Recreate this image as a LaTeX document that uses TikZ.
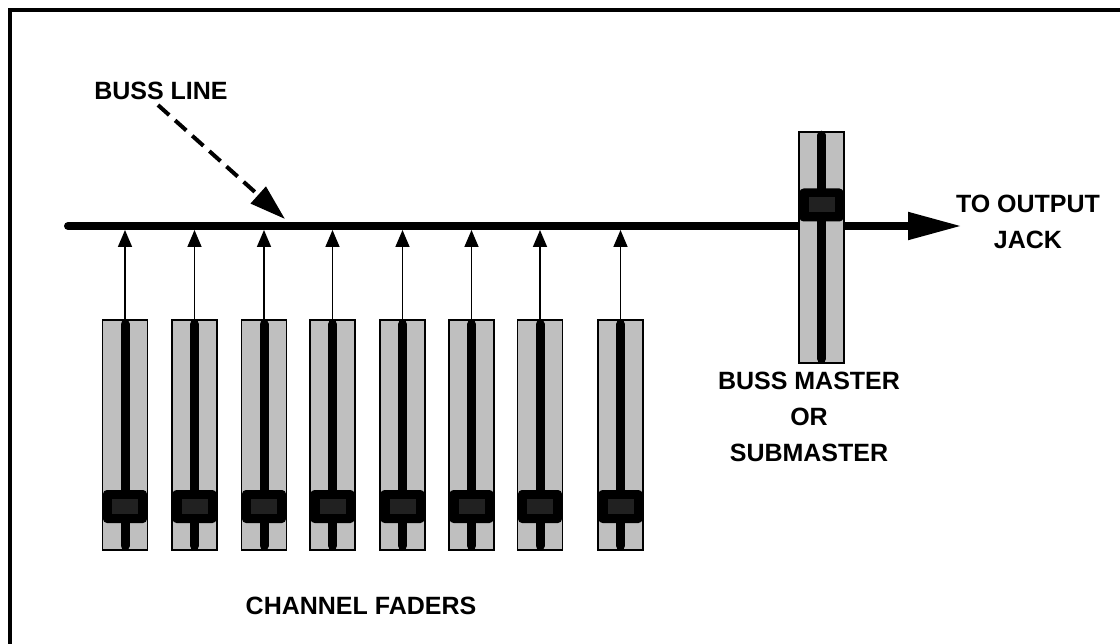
\documentclass[tikz,border=0pt]{standalone}
\usepackage{fontspec}
\setmainfont{Liberation Sans}
\usetikzlibrary{arrows.meta}
\tikzset{
  fader/.style={draw=black,line width=1.5pt,fill=black!25,minimum width=45pt,minimum height=230pt,inner sep=0pt},
  slot/.style={line width=9pt,line cap=round},
  knob/.style={fill=black,rounded corners=4pt,minimum width=44pt,minimum height=33pt,inner sep=0pt},
  knobtop/.style={fill=black!87,minimum width=26pt,minimum height=15pt,inner sep=0pt},
  feed/.style={line width=1.6pt,-{Triangle[length=17pt,width=14pt]}},
  lbl/.style={font=\fontsize{25}{36}\selectfont\bfseries,align=center,inner sep=0pt}
}
\begin{document}
\begin{tikzpicture}[x=1pt,y=-1pt]
  \useasboundingbox (0,0) rectangle (1120,644);
  \draw[line width=4pt] (10,644) -- (10,10) -- (1120,10);
  % buss line
  \coordinate (busstart) at (68,226);
  \coordinate (bussend) at (962,226);
  \draw[line width=8pt,line cap=round,-{Triangle[length=54pt,width=26pt]}] (busstart) -- (bussend);
  % channel faders
  \foreach \x [count=\i] in {125,194.5,264,332.5,402.5,471.5,540,620.5}{
    \node[fader] (f\i) at (\x,435) {};
    \draw[slot] ([yshift=-5pt]f\i.north) -- ([yshift=5pt]f\i.south);
    \node[knob] (k\i) at (\x,506.5) {};
    \node[knobtop] at (k\i) {};
    \coordinate (b\i) at (\x,230);
    \draw[feed] (f\i.north) -- (b\i);
  }
  % buss master
  \node[fader,minimum height=231pt] (mf) at (821.5,247.5) {};
  \draw[slot] ([yshift=-4pt]mf.north) -- ([yshift=5pt]mf.south);
  \node[knob] (mk) at (821.5,205) {};
  \node[knobtop] at (mk) {};
  % labels
  \node[lbl] (busslbl) at (161,91) {BUSS LINE};
  \coordinate (busspt) at (285,219);
  \draw[line width=4pt,dash pattern=on 15pt off 8pt,-{Triangle[length=36pt,width=22pt]}] ([xshift=-3pt,yshift=-5pt]busslbl.south) -- (busspt);
  \node[lbl] (outlbl) at (1028,222) {TO OUTPUT\\JACK};
  \node[lbl] (masterlbl) at (809,417) {BUSS MASTER\\OR\\SUBMASTER};
  \node[lbl] (chanlbl) at (361,606) {CHANNEL FADERS};
\end{tikzpicture}
\end{document}
